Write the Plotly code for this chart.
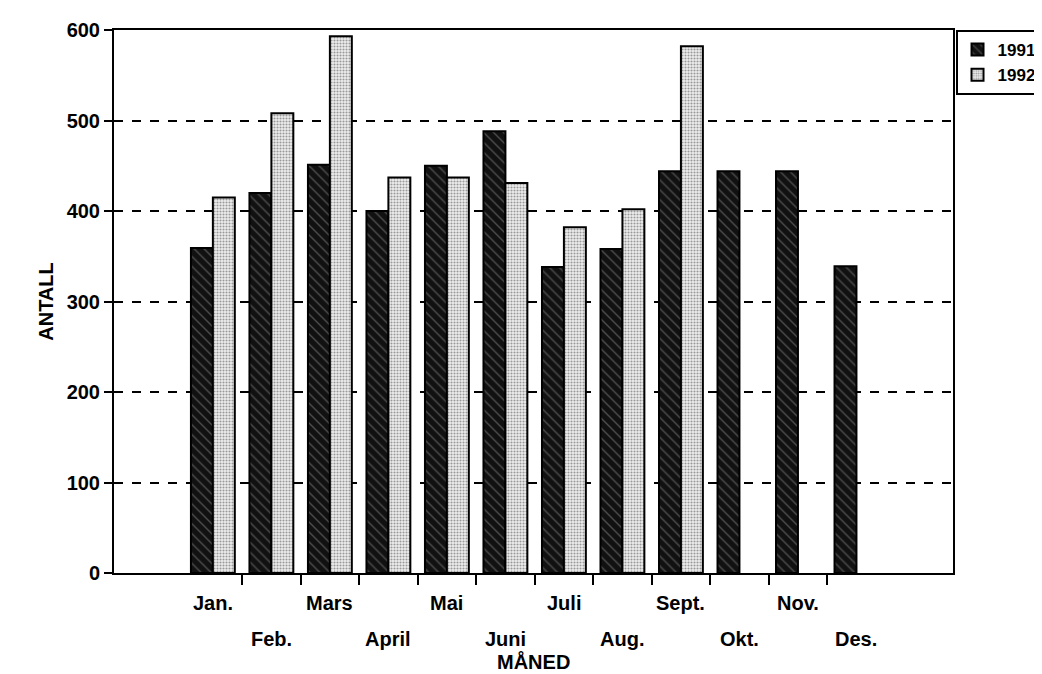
import plotly.graph_objects as go

months = ["Jan.", "Feb.", "Mars", "April", "Mai", "Juni",
          "Juli", "Aug.", "Sept.", "Okt.", "Nov.", "Des."]
antall_1991 = [359, 420, 451, 400, 450, 488, 338, 358, 444, 444, 444, 339]
antall_1992 = [415, 508, 593, 437, 437, 431, 382, 402, 582, None, None, None]

FONT = "Liberation Sans, Arial, sans-serif"
TXT = dict(family=FONT, size=20, color="black", weight="bold")
x = list(range(len(months)))

fig = go.Figure()
fig.add_trace(go.Bar(
    x=x, y=antall_1991, name="1991",
    marker=dict(color="#111111", line=dict(color="black", width=2),
                pattern=dict(shape="\\", fgcolor="#8a8a8a", bgcolor="#111111",
                             size=7, solidity=0.2)),
))
fig.add_trace(go.Bar(
    x=x, y=antall_1992, name="1992",
    marker=dict(color="white", line=dict(color="black", width=2),
                pattern=dict(shape=".", fgcolor="#444444", bgcolor="#eeeeee",
                             size=3, solidity=0.4)),
))

# month labels on two staggered rows
for i, m in enumerate(months):
    fig.add_annotation(x=i, y=-0.031 if i % 2 == 0 else -0.098, xref="x", yref="paper",
                       text=m, showarrow=False, yanchor="top", font=TXT)
fig.add_annotation(x=0.5, y=-0.138, xref="paper", yref="paper", text="MÅNED",
                   showarrow=False, yanchor="top", font=TXT)

fig.update_layout(
    width=1042, height=674,
    margin=dict(l=106, r=97, t=22, b=109, autoexpand=False),
    plot_bgcolor="white", paper_bgcolor="white",
    barmode="group", bargap=0.25, bargroupgap=0,
    font=TXT,
    legend=dict(x=1.003, y=1, xanchor="left", yanchor="top",
                bordercolor="black", borderwidth=2, itemwidth=30,
                font=dict(family=FONT, size=17, color="black", weight="bold")),
    xaxis=dict(range=[-1.69, 12.65], tickvals=[i + 0.5 for i in range(11)],
               ticktext=[""] * 11, ticks="outside", ticklen=10, tickwidth=2,
               tickcolor="black", showline=True, linecolor="black", linewidth=2,
               mirror=True, showgrid=False, zeroline=False),
    yaxis=dict(range=[0, 600], tickvals=[0, 100, 200, 300, 400, 500, 600],
               tickfont=TXT,
               ticks="outside", ticklen=8, tickwidth=2, tickcolor="black",
               showline=True, linecolor="black", linewidth=2, mirror=True,
               showgrid=True, gridcolor="black", gridwidth=2, griddash="dash",
               zeroline=False, title=dict(text="ANTALL", standoff=8, font=TXT)),
)

fig.write_html("out.html")
